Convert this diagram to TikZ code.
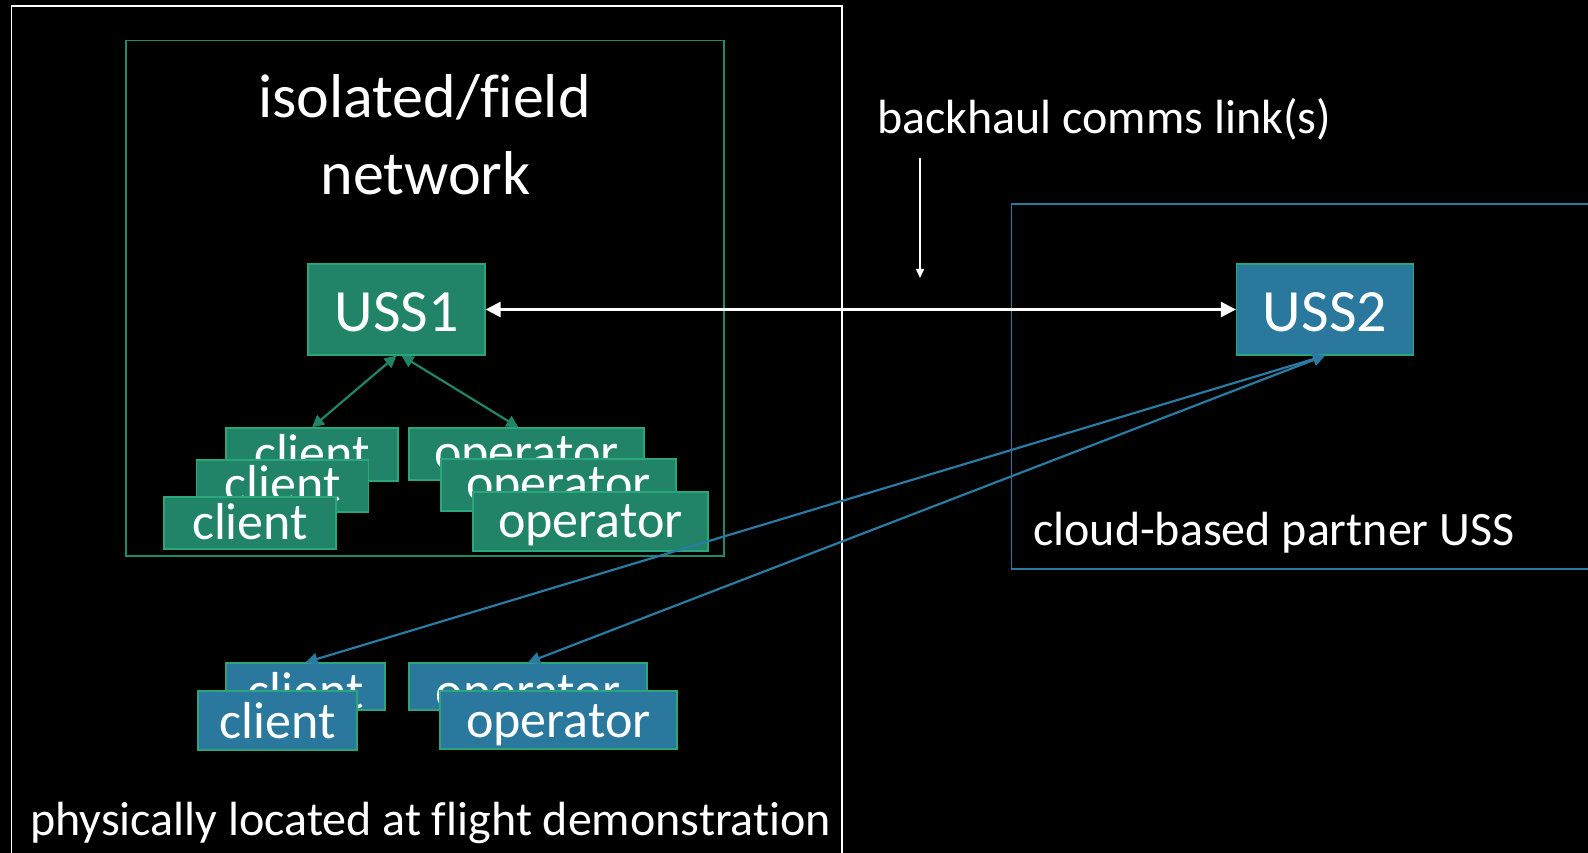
\documentclass[tikz,border=0pt]{standalone}
\usepackage{fontspec}
\setmainfont{Carlito}[Ligatures={NoCommon}]
\usetikzlibrary{arrows.meta,calc}
\definecolor{gfill}{RGB}{33,132,104}
\definecolor{gedge}{RGB}{42,166,122}
\definecolor{bfill}{RGB}{42,120,157}
\definecolor{gframe}{RGB}{30,140,105}
\definecolor{bframe}{RGB}{40,122,160}
\definecolor{gline}{RGB}{33,132,104}
\definecolor{bline}{RGB}{42,122,162}
\tikzset{
  gtip/.tip={Triangle[length=12pt,width=12pt]},
  wtip/.tip={Triangle[length=15pt,width=15pt]},
  stip/.tip={Triangle[length=9pt,width=8pt]},
}
\begin{document}
\begin{tikzpicture}[x=1pt,y=-1pt,
  box/.style={draw=gedge, line width=1.2pt, inner sep=0pt, text=white,
    font=\fontsize{52}{60}\selectfont, text depth=0pt},
  gbox/.style={box, fill=gfill},
  bbox/.style={box, fill=bfill},
  ussbox/.style={box, font=\fontsize{60}{70}\selectfont, minimum width=177pt, minimum height=91pt, text height=43pt},
  cli/.style={minimum width=172pt},
  opr/.style={minimum width=235pt},
  lbl/.style={text=white, inner sep=0pt, font=\fontsize{48}{58}\selectfont, anchor=base west},
  ttl/.style={text=white, inner sep=0pt, font=\fontsize{62}{77}\selectfont, anchor=base},
]
\useasboundingbox (0,0) rectangle (1588,853);
\fill[black] (0,0) rectangle (1588,853);

% containers
\draw[white, line width=1.5pt] (11.5,870) |- (842,6) -- (842,870);
\draw[gframe, line width=1.3pt] (126,40.5) rectangle (724,556);
\draw[bframe, line width=1.3pt] (1600,204) -| (1011.5,569) -- (1600,569);

% texts
\node[ttl] (t1) at (424.5,118) {isolated/field};
\node[ttl] (t2) at (425.5,195) {network};
\node[lbl] (back) at (877,134) {backhaul comms link(s)};
\node[lbl] (cloud) at (1033,545) {cloud-based partner USS};
\node[lbl] (phys) at (30,835) {physically located at flight demonstration};

% USS nodes
\node[gbox, ussbox] (u1) at (396.5,309.5) {USS1};
\node[bbox, ussbox] (u2) at (1325,309.5) {USS2};

% green clients / operators
\node[gbox, cli, minimum height=53pt, text height=31pt] (c1) at (312,454.5) {client};
\node[gbox, cli, minimum height=52pt, text height=31pt] (c2) at (282.5,486) {client};
\node[gbox, cli, minimum height=52pt, text height=32pt] (c3) at (250,523) {client};
\node[gbox, opr, minimum height=52pt, text height=31pt] (o1) at (526.5,454) {operator};
\node[gbox, opr, minimum height=52pt, text height=31pt] (o2) at (558.5,485) {operator};
\node[gbox, opr, minimum height=59pt, text height=31pt] (o3) at (590.5,521.5) {operator};

% blue clients / operators
\node[bbox, minimum width=159pt, minimum height=47pt, text height=44pt] (bc1) at (305.5,686.5) {client};
\node[bbox, minimum width=159pt, minimum height=59pt, text height=35pt] (bc2) at (277.5,720.5) {client};
\node[bbox, minimum width=238pt, minimum height=47pt, text height=44pt] (bo1) at (528,686.5) {operator};
\node[bbox, minimum width=237pt, minimum height=58pt, text height=35pt] (bo2) at (558.5,720) {operator};

% connectors
\coordinate (a1) at (920,158);
\coordinate (a2) at (920,278);
\draw[white, line width=1.5pt, -stip] (a1) -- (a2);
\draw[white, line width=2.5pt, wtip-wtip] (u1.east) -- (u2.west);
\draw[gline, line width=2.2pt, gtip-gtip] (u1.south) -- (c1.north);
\draw[gline, line width=2.2pt, gtip-gtip] ($(u1.south)+(5,0)$) -- ($(o1.north)+(-8,0)$);
\draw[bline, line width=2.2pt, gtip-gtip] (u2.south) -- (bc1.north);
\draw[bline, line width=2.2pt, gtip-gtip] (u2.south) -- (bo1.north);
\end{tikzpicture}
\end{document}
